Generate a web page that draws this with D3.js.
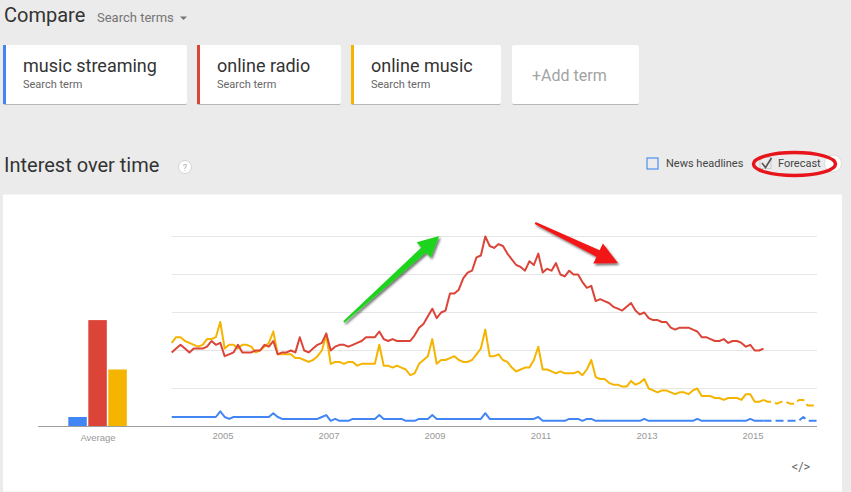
<!DOCTYPE html>
<html><head><meta charset="utf-8">
<script src="https://cdn.jsdelivr.net/npm/d3@7"></script>
<style>
html,body{margin:0;padding:0;background:#ebebeb;overflow:hidden;}
svg{display:block;font-family:Roboto,"Noto Sans",Arial,sans-serif;}
</style></head><body>
<svg id="c" width="851" height="492"></svg>
<script>
// ---------- data ----------
const terms = ["music streaming", "online radio", "online music"];
const termColors = ["#4285f4", "#db4437", "#f4b400"];
const startYear = 2004; // first point = January 2004, monthly
const musicStreaming = [
  5,5,5,5,5,5,5,5,5,5,5,8,
  5,4,5,5,5,5,5,5,5,5,5,7,
  5,4,4,4,4,4,4,4,4,4,5,6,
  3,4,3,3,3,4,4,4,4,4,4,6,
  4,4,4,4,4,3,3,3,4,4,4,6,
  4,4,4,4,4,4,4,4,4,4,4,7,
  4,4,4,4,4,4,4,4,4,4,4,5,
  3,3,3,3,3,3,4,4,4,3,4,4,
  3,3,3,3,3,3,3,3,3,3,3,4,
  3,3,3,3,3,3,3,3,3,3,3,4,
  3,3,3,3,3,3,3,3,3,3,3,4,
  3,3,3];
const onlineRadio = [
  39,41,43,41,39,41,41,41,42,45,43,44,
  37,38,39,43,39,39,39,40,40,43,42,45,
  38,39,39,40,39,47,40,39,41,43,44,49,
  40,42,43,43,42,43,44,45,47,47,47,50,
  46,45,46,45,45,45,45,48,52,54,58,62,
  57,60,61,70,70,72,78,81,82,89,90,100,
  95,94,96,95,91,88,85,84,82,87,85,91,
  81,83,82,86,80,79,82,80,80,76,73,74,
  66,67,66,65,63,62,61,63,65,61,59,60,
  57,56,56,55,55,52,51,52,52,52,51,50,
  47,47,46,45,45,46,44,45,45,44,42,43,
  40,40,41];
const onlineMusic = [
  44,47,47,45,44,43,42,43,46,46,47,55,
  41,43,43,41,43,43,42,39,40,42,44,50,
  38,38,38,38,36,36,35,34,35,37,40,48,
  33,34,34,33,34,34,32,33,33,33,33,43,
  32,32,31,32,31,30,27,28,33,35,37,46,
  33,35,35,36,37,35,34,34,35,38,41,51,
  37,37,38,35,34,31,29,30,31,31,35,42,
  30,30,29,28,29,28,28,28,29,27,30,35,
  26,25,25,23,22,22,21,21,24,22,23,25,
  20,19,18,19,19,18,17,18,18,17,19,20,
  16,16,16,15,15,14,15,15,15,14,17,17,
  13,13,14];
// forecast: April 2015 .. March 2016
const musicStreamingForecast = [3,3,3,3,3,3,3,3,5,3,3,3];
const onlineMusicForecast = [13,13,12,13,13,12,12,14,14,11,11,11];
const averages = [5, 56, 30];
const yearTicks = [2005, 2007, 2009, 2011, 2013, 2015];
const gridValues = [20, 40, 60, 80, 100];

// ---------- drawing ----------
const svg = d3.select("#c");
const defs = svg.append("defs");
const sh = defs.append("filter").attr("id","shadow").attr("x","-20%").attr("y","-20%").attr("width","150%").attr("height","150%");
sh.append("feDropShadow").attr("dx",1.5).attr("dy",2).attr("stdDeviation",1.2).attr("flood-color","#000").attr("flood-opacity",0.55);
const cardSh = defs.append("filter").attr("id","cardsh").attr("x","-5%").attr("y","-10%").attr("width","110%").attr("height","130%");
cardSh.append("feDropShadow").attr("dx",0).attr("dy",1).attr("stdDeviation",0.6).attr("flood-color","#000").attr("flood-opacity",0.22);

// header
svg.append("text").attr("x",4).attr("y",22).attr("font-size",20).attr("fill","#333").text("Compare");
svg.append("text").attr("x",97).attr("y",22).attr("font-size",13).attr("fill","#757575").text("Search terms");
svg.append("path").attr("d","M180,16.5 L187,16.5 L183.5,20 Z").attr("fill","#757575");

const cards = [
  {x:3, w:184, label:terms[0], color:termColors[0]},
  {x:197, w:144, label:terms[1], color:termColors[1]},
  {x:351, w:150, label:terms[2], color:termColors[2]}
];
cards.forEach(c=>{
  const g = svg.append("g");
  g.append("rect").attr("x",c.x).attr("y",45).attr("width",c.w).attr("height",59).attr("rx",2).attr("fill","#fff").attr("filter","url(#cardsh)");
  g.append("rect").attr("x",c.x).attr("y",45).attr("width",3).attr("height",59).attr("fill",c.color);
  g.append("text").attr("x",c.x+20).attr("y",72).attr("font-size",18).attr("fill","#333").text(c.label);
  g.append("text").attr("x",c.x+20).attr("y",88).attr("font-size",11).attr("fill","#666").text("Search term");
});
svg.append("rect").attr("x",512).attr("y",45).attr("width",127).attr("height",59).attr("rx",2).attr("fill","#fff").attr("filter","url(#cardsh)");
svg.append("text").attr("x",532).attr("y",81).attr("font-size",16).attr("fill","#a3a3a3").text("+Add term");

svg.append("text").attr("x",4).attr("y",172).attr("font-size",20).attr("fill","#333").text("Interest over time");
svg.append("circle").attr("cx",185).attr("cy",167).attr("r",6.5).attr("fill","#fff").attr("stroke","#d5d5d5");
svg.append("text").attr("x",185).attr("y",170.5).attr("text-anchor","middle").attr("font-size",9).attr("fill","#aaa").text("?");

svg.append("rect").attr("x",647).attr("y",158).attr("width",11).attr("height",11).attr("fill","none").attr("stroke","#4d8ff0").attr("stroke-width",1.2);
svg.append("text").attr("x",666).attr("y",167).attr("font-size",11).attr("fill","#444").text("News headlines");
svg.append("circle").attr("cx",833).attr("cy",163.5).attr("r",8.5).attr("fill","#fff").attr("stroke","#ddd");
svg.append("rect").attr("x",760).attr("y",157.5).attr("width",11).attr("height",11).attr("fill","none").attr("stroke","#ccc").attr("stroke-width",1);
svg.append("path").attr("d","M762,163 L765.5,167.5 L771.5,158").attr("fill","none").attr("stroke","#555").attr("stroke-width",1.6);
svg.append("text").attr("x",778).attr("y",167).attr("font-size",11).attr("fill","#444").text("Forecast");
svg.append("ellipse").attr("cx",794.5).attr("cy",164).attr("rx",41).attr("ry",11.5).attr("fill","none").attr("stroke","#e8141c").attr("stroke-width",3.5);

// chart card
svg.append("rect").attr("x",3).attr("y",194.5).attr("width",839).attr("height",297).attr("fill","#fff");

const x = d3.scaleLinear().domain([2005, 2015]).range([222.5, 752.5]);
const y = d3.scaleLinear().domain([0, 100]).range([426.5, 236.5]);
const monthX = i => x(startYear + (i + 0.5) / 12);

// grid
svg.append("g").selectAll("line").data(gridValues).join("line")
  .attr("x1",172).attr("x2",817).attr("y1",d=>y(d)).attr("y2",d=>y(d))
  .attr("stroke","#e6e6e6").attr("stroke-width",1);

// average bars
const xb = d3.scaleBand().domain(terms).range([68.3, 126.8]).paddingInner(0.075);
svg.append("g").selectAll("rect").data(averages).join("rect")
  .attr("x",(d,i)=>xb(terms[i])).attr("width",xb.bandwidth())
  .attr("y",d=>y(d)).attr("height",d=>y(0)-y(d))
  .attr("fill",(d,i)=>termColors[i]);

// baseline
svg.append("line").attr("x1",38).attr("x2",817).attr("y1",y(0)).attr("y2",y(0)).attr("stroke","#9e9e9e").attr("stroke-width",1.2);

// x axis labels
const ax = svg.append("g").attr("transform",`translate(0,${y(0)})`)
  .call(d3.axisBottom(x).tickValues(yearTicks).tickFormat(d3.format("d")).tickSize(0).tickPadding(6));
ax.select(".domain").remove();
ax.selectAll("text").attr("font-family","Arial, 'Liberation Sans', sans-serif").attr("font-size",9.5).attr("fill","#999");
svg.append("text").attr("x",98).attr("y",441).attr("text-anchor","middle")
  .attr("font-family","Arial, 'Liberation Sans', sans-serif").attr("font-size",9.5).attr("fill","#999").text("Average");

// lines
const line = d3.line().x(d=>monthX(d.i)).y(d=>y(d.v));
const toPts = (arr, off) => arr.map((v,k)=>({i:k+off, v}));
const series = [musicStreaming, onlineRadio, onlineMusic];
const forecasts = [musicStreamingForecast, null, onlineMusicForecast];
const lg = svg.append("g").attr("fill","none").attr("stroke-width",2).attr("stroke-linejoin","round");
[2,1,0].forEach(s=>{
  const arr = series[s];
  if (forecasts[s]) {
    const last = arr.length-1;
    const fp = [{i:last, v:arr[last]}].concat(toPts(forecasts[s], arr.length));
    lg.append("path").attr("d",line(fp)).attr("stroke",termColors[s]).attr("stroke-dasharray","8,4");
  }
  lg.append("path").attr("d",line(toPts(arr,0))).attr("stroke",termColors[s]);
});

// annotation arrows (positioned in data units)
function arrow(t0, v0, t1, v1, fill, hl, hw, w0, w1) {
  const p0 = [x(t0), y(v0)], p1 = [x(t1), y(v1)];
  const dx = p1[0]-p0[0], dy = p1[1]-p0[1], L = Math.hypot(dx,dy);
  const ux = dx/L, uy = dy/L, nx = -uy, ny = ux;
  const b = [p1[0]-ux*hl, p1[1]-uy*hl];
  const pts = [
    [p0[0]+nx*w0/2, p0[1]+ny*w0/2],
    [b[0]+nx*w1/2, b[1]+ny*w1/2],
    [b[0]+nx*hw, b[1]+ny*hw],
    p1,
    [b[0]-nx*hw, b[1]-ny*hw],
    [b[0]-nx*w1/2, b[1]-ny*w1/2],
    [p0[0]-nx*w0/2, p0[1]-ny*w0/2]
  ];
  svg.append("path").attr("d","M"+pts.map(p=>p.join(",")).join("L")+"Z").attr("fill",fill).attr("filter","url(#shadow)");
}
arrow(2007.29, 55, 2009.09, 100.3, "#1fd41f", 21, 10.5, 2, 7);
arrow(2010.9, 107.1, 2012.46, 86, "#f21414", 22, 11, 2, 7);

// embed icon
svg.append("text").attr("x",801).attr("y",470.5).attr("text-anchor","middle").attr("font-size",13).attr("fill","#666").text("</>");
</script>
</body></html>
